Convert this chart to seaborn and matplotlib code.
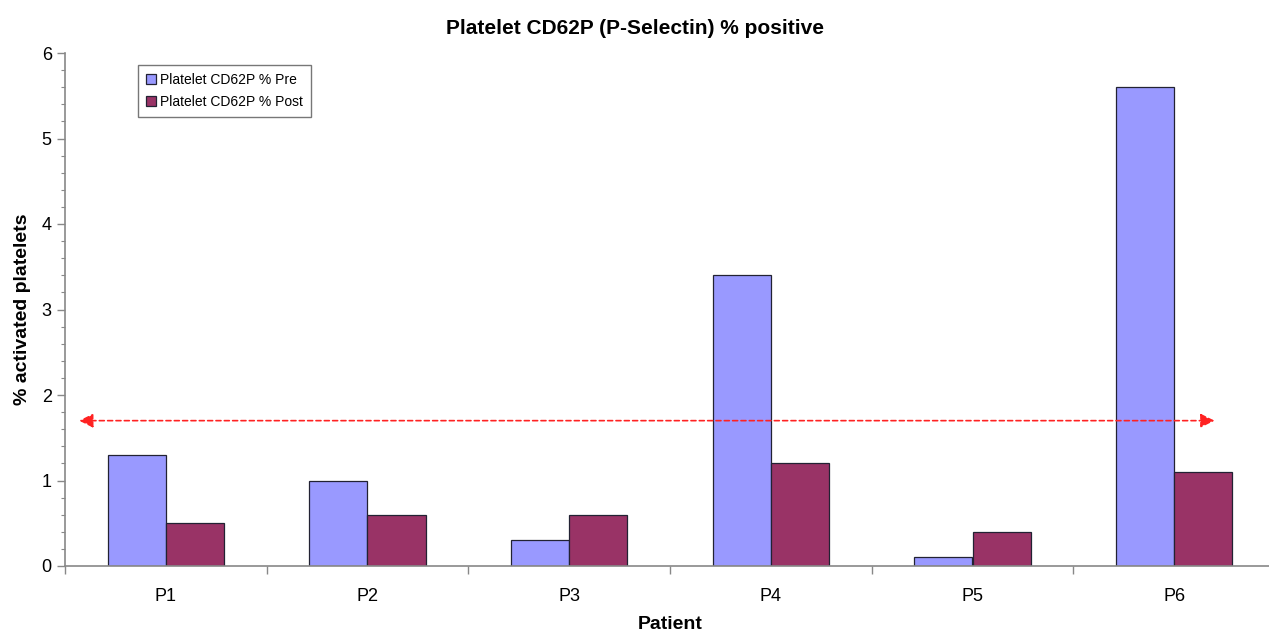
import matplotlib
matplotlib.use("Agg")
import matplotlib.pyplot as plt
import seaborn as sns
import pandas as pd
import numpy as np
from matplotlib.ticker import MultipleLocator, FixedLocator

patients = ["P1", "P2", "P3", "P4", "P5", "P6"]
pre = [1.3, 1.0, 0.3, 3.4, 0.1, 5.6]
post = [0.5, 0.6, 0.6, 1.2, 0.4, 1.1]
series = ["Platelet CD62P % Pre", "Platelet CD62P % Post"]
threshold = 1.7

sns.set_theme(style="white")
plt.rcParams['font.family'] = ['Liberation Sans', 'DejaVu Sans']
plt.rcParams['text.color'] = 'black'
plt.rcParams['axes.labelcolor'] = 'black'
plt.rcParams['xtick.labelcolor'] = 'black'
plt.rcParams['ytick.labelcolor'] = 'black'

df = pd.DataFrame({
    "Patient": patients * 2,
    "value": pre + post,
    "series": [series[0]] * len(patients) + [series[1]] * len(patients),
})

fig = plt.figure(figsize=(12.69, 6.35), dpi=100)
ax = fig.add_axes([65/1269, 1-566/635, (1275-65)/1269, (566-53)/635])

sns.barplot(data=df, x="Patient", y="value", hue="series", hue_order=series,
            palette=["#9999FF", "#993366"], width=0.576, gap=0,
            edgecolor="#222233", linewidth=0.9, saturation=1, ax=ax)

ax.set_xlim(-0.5, 5.5)
ax.set_ylim(0, 6)
ax.yaxis.set_major_locator(MultipleLocator(1))
ax.yaxis.set_minor_locator(MultipleLocator(0.2))
ax.xaxis.set_minor_locator(FixedLocator(np.arange(-0.5, 6.0, 1.0)))
ax.tick_params(axis="y", which="major", direction="out", length=6, width=1, color="#888888", labelsize=13, left=True)
ax.tick_params(axis="y", which="minor", direction="out", length=3, width=0.8, color="#888888", left=True)
ax.tick_params(axis="x", which="major", length=0, labelsize=13, pad=16)
ax.tick_params(axis="x", which="minor", direction="out", length=6, width=1, color="#888888", bottom=True)

for s in ["top", "right"]:
    ax.spines[s].set_visible(False)
for s in ["left", "bottom"]:
    ax.spines[s].set_color("#888888")
    ax.spines[s].set_linewidth(1.2)

ax.set_xlabel("Patient", fontsize=14, fontweight="bold", labelpad=8)
ax.set_ylabel("% activated platelets", fontsize=14, fontweight="bold", labelpad=8)
fig.suptitle("Platelet CD62P (P-Selectin) % positive", fontsize=15, fontweight="bold", y=0.97)

ax.annotate("", xy=(-0.43, threshold), xytext=(5.2, threshold),
            arrowprops=dict(arrowstyle="<|-|>,head_length=0.7,head_width=0.35",
                            linestyle=(0, (3, 2)), color="#FF2222",
                            lw=1.2, mutation_scale=12, shrinkA=0, shrinkB=0))

leg = ax.legend(loc="upper left", bbox_to_anchor=(0.055, 0.99), fontsize=10,
                frameon=True, fancybox=False, edgecolor="#555555", handlelength=0.7,
                handleheight=0.7, handletextpad=0.3, borderpad=0.55, labelspacing=0.6)
leg.get_frame().set_linewidth(1.0)
for h in leg.legend_handles:
    h.set_edgecolor("#222233")

fig.savefig("out.png", dpi=100)
